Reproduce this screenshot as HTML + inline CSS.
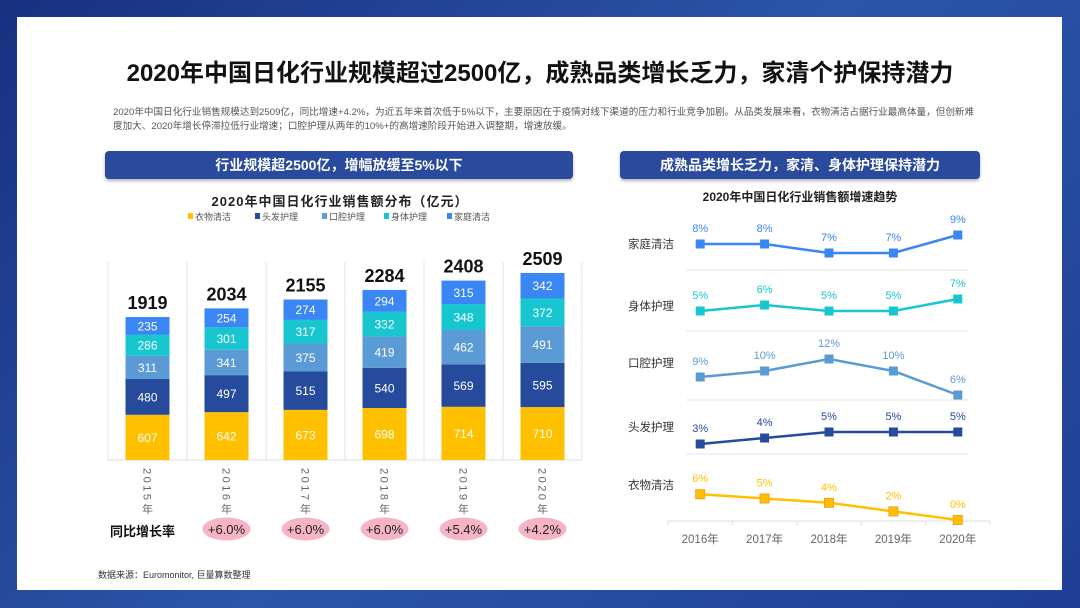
<!DOCTYPE html>
<html><head><meta charset="utf-8"><style>
*{margin:0;padding:0;box-sizing:border-box}
body{width:1080px;height:608px;overflow:hidden;position:relative;font-family:"Liberation Sans","Noto Sans CJK SC",sans-serif;background:linear-gradient(135deg,#1a2f80 0%,#2a56a8 50%,#1f3f96 100%)}
#panel{position:absolute;left:17px;top:17px;width:1045px;height:573px;background:#fff}
.t{position:absolute;white-space:nowrap}
.banner{position:absolute;background:#2a4a9e;color:#fff;border-radius:4px;font-size:14px;font-weight:bold;text-align:center;line-height:28px;box-shadow:0 2px 3px rgba(0,0,0,.3)}
svg{position:absolute;left:0;top:0}
</style></head><body>
<div id="panel"></div>
<div class="t" style="left:0;width:1080px;text-align:center;top:53px;font-size:24px;font-weight:bold;color:#111">2020年中国日化行业规模超过2500亿，成熟品类增长乏力，家清个护保持潜力</div>
<div class="t" style="left:113px;top:106px;font-size:9.6px;color:#555;line-height:14px;white-space:normal;width:862px">2020年中国日化行业销售规模达到2509亿，同比增速+4.2%，为近五年来首次低于5%以下，主要原因在于疫情对线下渠道的压力和行业竞争加剧。从品类发展来看，衣物清洁占据行业最高体量，但创新难度加大、2020年增长停滞拉低行业增速；口腔护理从两年的10%+的高增速阶段开始进入调整期，增速放缓。</div>
<div class="banner" style="left:105px;top:151px;width:468px">行业规模超2500亿，增幅放缓至5%以下</div>
<div class="banner" style="left:620px;top:151px;width:360px">成熟品类增长乏力，家清、身体护理保持潜力</div>
<div class="t" style="left:105px;width:470px;text-align:center;top:191px;font-size:13px;font-weight:bold;color:#222;letter-spacing:1px">2020年中国日化行业销售额分布（亿元）</div>
<div class="t" style="left:620px;width:360px;text-align:center;top:188px;font-size:12px;font-weight:bold;color:#222">2020年中国日化行业销售额增速趋势</div>
<div class="t" style="left:110px;top:521px;font-size:13px;font-weight:bold;color:#111">同比增长率</div>
<div class="t" style="left:98px;top:568px;font-size:9px;color:#333">数据来源：Euromonitor, 巨量算数整理</div>
<svg id="chart" width="1080" height="608"></svg>
<script>
const years=['2015年','2016年','2017年','2018年','2019年','2020年'];
const seriesNames=['衣物清洁','头发护理','口腔护理','身体护理','家庭清洁'];
const laundry=[607,642,673,698,714,710];
const hair=[480,497,515,540,569,595];
const oral=[311,341,375,419,462,491];
const body=[286,301,317,332,348,372];
const home=[235,254,274,294,315,342];
const totals=[1919,2034,2155,2284,2408,2509];
const yoy=['','+6.0%','+6.0%','+6.0%','+5.4%','+4.2%'];
const lineYears=['2016年','2017年','2018年','2019年','2020年'];
const gHome=[8,8,7,7,9];
const gBody=[5,6,5,5,7];
const gOral=[9,10,12,10,6];
const gHair=[3,4,5,5,5];
const gLaundry=[6,5,4,2,0];

const NS='http://www.w3.org/2000/svg';
const svg=document.getElementById('chart');
function mk(tag,attrs,txt){const e=document.createElementNS(NS,tag);for(const k in attrs)e.setAttribute(k,attrs[k]);if(txt!==undefined)e.textContent=txt;svg.appendChild(e);return e;}
const colors=['#ffc000','#264a9c','#5b9bd5','#17c6cf','#3a86f5'];
const stacks=[laundry,hair,oral,body,home];
const baseY=460,k=0.0745,x0=108,step=79,bw=44;
const bx=i=>x0+step*i+step/2;
const by=v=>baseY-v*k;
for(let i=0;i<=6;i++){const l=mk('line',{x1:x0+step*i,x2:x0+step*i,y1:262,y2:baseY,stroke:'#e2e2e2','stroke-width':1});
}
const ax=mk('line',{x1:x0,x2:x0+step*6,y1:baseY,y2:baseY,stroke:'#ddd'});

const legX=[188,255,322,384,447];
seriesNames.forEach((n,s)=>{const r=mk('rect',{x:legX[s],y:213,width:5,height:6,fill:colors[s]});

const t=mk('text',{x:legX[s]+7,y:220,'font-size':9,fill:'#555'},n);
});
years.forEach((y,i)=>{let cum=0;
stacks.forEach((arr,s)=>{const v=arr[i];const top=by(cum+v),bot=by(cum);
const r=mk('rect',{x:bx(i)-bw/2,y:top,width:bw,height:bot-top,fill:colors[s]});

const t=mk('text',{x:bx(i),y:(top+bot)/2+4.5,'font-size':12,fill:'#fff','text-anchor':'middle'},v);

cum+=v;});
const tt=mk('text',{x:bx(i),y:by(totals[i])-8,'font-size':18,'font-weight':'bold',fill:'#111','text-anchor':'middle'},totals[i]);

const yl=mk('text',{x:0,y:0,'font-size':11,fill:'#666','text-anchor':'start',transform:`translate(${bx(i)-4},468) rotate(90)`,'letter-spacing':'2.5'},y.slice(0,4));

const yn=mk('text',{x:bx(i),y:513,'font-size':11,fill:'#666','text-anchor':'middle'},'年');

if(yoy[i]){const e=mk('ellipse',{cx:bx(i),cy:529,rx:24,ry:11.5,fill:'#f7b4c2'});

const t=mk('text',{x:bx(i),y:534,'font-size':13,fill:'#222','text-anchor':'middle'},yoy[i]);
}
});
const lx0=668,lstep=64.4;
const lx=i=>lx0+lstep*i+lstep/2;
const rows=[
 {name:'家庭清洁',data:gHome,c:'#3a86f5',base:316,k:9,label:244},
 {name:'身体护理',data:gBody,c:'#17c6cf',base:341,k:6,label:306},
 {name:'口腔护理',data:gOral,c:'#5b9bd5',base:431,k:6,label:363},
 {name:'头发护理',data:gHair,c:'#264a9c',base:462,k:6,label:427},
 {name:'衣物清洁',data:gLaundry,c:'#ffc000',base:520,k:4.3,label:485}];
[270,331,400,454].forEach(y=>{const l=mk('line',{x1:686,x2:968,y1:y,y2:y,stroke:'#e6e6e6','stroke-width':1});
});
const la=mk('line',{x1:lx0,x2:lx0+lstep*5,y1:521,y2:521,stroke:'#ddd'});

for(let i=0;i<=5;i++){const t=mk('line',{x1:lx0+lstep*i,x2:lx0+lstep*i,y1:521,y2:525,stroke:'#ddd'});
}
lineYears.forEach((y,i)=>{const t=mk('text',{x:lx(i),y:543,'font-size':11.5,fill:'#666','text-anchor':'middle'},y);
});
rows.forEach(r=>{const yv=v=>r.base-v*r.k;
const lab=mk('text',{x:628,y:r.label+4,'font-size':11.5,fill:'#333'},r.name);

const p=mk('polyline',{points:r.data.map((v,i)=>lx(i)+','+yv(v)).join(' '),fill:'none',stroke:r.c,'stroke-width':2.5});

r.data.forEach((v,i)=>{const m=mk('rect',{x:lx(i)-4.5,y:yv(v)-4.5,width:9,height:9,fill:r.c,stroke:r.c==='#ffc000'?'#f4a020':'none'});

const t=mk('text',{x:lx(i),y:yv(v)-12,'font-size':11,fill:r.c,'text-anchor':'middle'},v+'%');
});
});
</script>
</body></html>
